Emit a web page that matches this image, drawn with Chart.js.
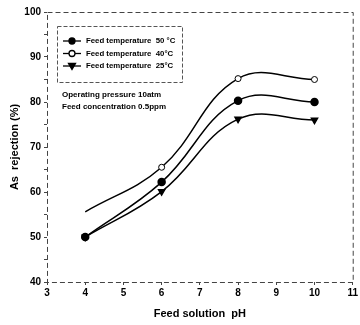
<!DOCTYPE html>
<html>
<head>
<meta charset="utf-8">
<script src="https://cdn.jsdelivr.net/npm/chart.js@4"></script>
<style>
  html, body { margin: 0; padding: 0; background: #fff; }
  #wrap { width: 360px; height: 325px; }
</style>
</head>
<body>
<div id="wrap"><canvas id="chart" width="360" height="325"></canvas></div>
<script>
// data
const ph = [4, 6, 8, 10];
const temp50 = [50, 62.2, 80.3, 80];
const temp40 = [55.6, 65.5, 85.2, 85];
const temp25 = [50, 60.1, 76.2, 76];
const seriesNames = ["Feed temperature  50 \u00b0C", "Feed temperature  40\u00b0C", "Feed temperature  25\u00b0C"];
const noteLines = ["Operating pressure 10atm", "Feed concentration 0.5ppm"];

const FONT = "'Liberation Sans', Arial, sans-serif";

function pts(ys) {
  return ph.map((x, i) => ({ x: x, y: ys[i] }));
}

// frame, legend box and note drawn on top
const decorPlugin = {
  id: "decor",
  afterDraw(chart) {
    const { ctx, chartArea: a } = chart;
    ctx.save();
    // dashed frame
    ctx.strokeStyle = "#444";
    ctx.lineWidth = 1;
    ctx.setLineDash([5, 3]);
    ctx.strokeRect(a.left + 0.5, a.top + 0.5, a.right - a.left, a.bottom - a.top);

    // legend box
    ctx.strokeStyle = "#555";
    ctx.setLineDash([4, 2]);
    ctx.strokeRect(57.5, 26.5, 125, 56);
    ctx.setLineDash([]);

    const rows = [41, 53.5, 66];
    chart.data.datasets.forEach((ds, i) => {
      const y = rows[i];
      ctx.strokeStyle = "#000";
      ctx.lineWidth = 1.3;
      ctx.beginPath();
      ctx.moveTo(63, y);
      ctx.lineTo(81, y);
      ctx.stroke();
      ctx.fillStyle = ds.pointBackgroundColor;
      ctx.beginPath();
      if (ds.pointStyle === "triangle") {
        ctx.moveTo(68.5, y - 2.5);
        ctx.lineTo(75.5, y - 2.5);
        ctx.lineTo(72, y + 3.5);
        ctx.closePath();
      } else {
        ctx.arc(72, y, 3, 0, Math.PI * 2);
      }
      ctx.fill();
      ctx.stroke();
      ctx.fillStyle = "#000";
      ctx.font = "bold 7.8px " + FONT;
      ctx.textBaseline = "middle";
      ctx.textAlign = "left";
      ctx.fillText(seriesNames[i], 86, y);
    });

    ctx.font = "bold 8px " + FONT;
    ctx.textBaseline = "middle";
    ctx.fillText(noteLines[0], 62, 95);
    ctx.fillText(noteLines[1], 62, 107);
    ctx.restore();
  },
};

new Chart(document.getElementById("chart"), {
  type: "line",
  data: {
    datasets: [
      {
        label: seriesNames[0],
        data: pts(temp50),
        borderColor: "#000",
        pointBackgroundColor: "#000",
        pointBorderColor: "#000",
        pointStyle: "circle",
        pointRadius: 3.5,
        borderWidth: 1.5,
        tension: 0.4,
      },
      {
        label: seriesNames[1],
        data: pts(temp40),
        borderColor: "#000",
        pointBackgroundColor: "#fff",
        pointBorderColor: "#000",
        pointStyle: "circle",
        pointRadius: [0, 3, 3, 3],
        pointBorderWidth: 1,
        borderWidth: 1.5,
        tension: 0.4,
      },
      {
        label: seriesNames[2],
        data: pts(temp25),
        borderColor: "#000",
        pointBackgroundColor: "#000",
        pointBorderColor: "#000",
        pointStyle: "triangle",
        pointRotation: 180,
        pointRadius: 3.5,
        borderWidth: 1.5,
        tension: 0.4,
      },
    ],
  },
  options: {
    responsive: false,
    animation: false,
    layout: { padding: { top: 12, right: 5, left: 4, bottom: 0 } },
    plugins: {
      legend: { display: false },
      tooltip: { enabled: false },
    },
    scales: {
      x: {
        type: "linear",
        min: 3,
        max: 11,
        ticks: {
          stepSize: 1,
          color: "#000",
          font: { family: FONT, size: 10, weight: "bold" },
          padding: 2,
        },
        grid: { drawOnChartArea: false, tickLength: 3, color: "#444" },
        border: { display: false },
        title: {
          display: true,
          text: "Feed solution  pH",
          color: "#000",
          font: { family: FONT, size: 11, weight: "bold" },
          padding: { top: 6 },
        },
        afterFit(scale) { scale.height = 43; },
      },
      y: {
        min: 40,
        max: 100,
        ticks: {
          stepSize: 5,
          color: "#000",
          font: { family: FONT, size: 10, weight: "bold" },
          padding: 3,
          callback: (v) => (v % 10 === 0 ? v : ""),
        },
        grid: { drawOnChartArea: false, tickLength: 3, color: "#444" },
        border: { display: false },
        title: {
          display: true,
          text: "As  rejection (%)",
          color: "#000",
          font: { family: FONT, size: 11, weight: "bold" },
          padding: { bottom: 4 },
        },
        afterFit(scale) { scale.width = 43; },
      },
    },
  },
  plugins: [decorPlugin],
});
</script>
</body>
</html>
